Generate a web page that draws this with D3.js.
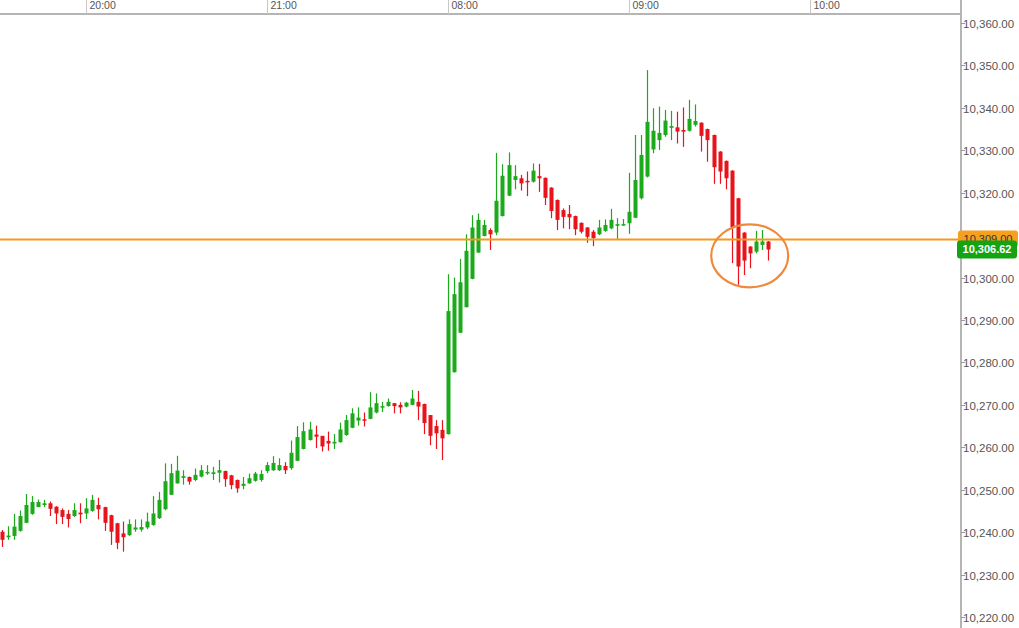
<!DOCTYPE html>
<html><head><meta charset="utf-8">
<script src="https://cdn.jsdelivr.net/npm/d3@7"></script>
<style>html,body{margin:0;padding:0;background:#fff;}svg{display:block;}</style>
</head><body><div id="chart"></div>
<script>
const opens = [10240.1,10238.8,10239.1,10240.3,10242.2,10244.3,10245.9,10246.4,10246.8,10246.0,10245.2,10244.3,10243.8,10244.6,10244.4,10245.0,10246.4,10245.9,10244.0,10242.1,10239.7,10239.3,10240.6,10240.6,10241.1,10241.7,10243.3,10245.4,10248.8,10251.5,10252.8,10253.0,10252.3,10253.1,10253.9,10253.7,10254.0,10254.4,10253.4,10252.3,10250.9,10251.5,10252.1,10252.3,10254.4,10254.6,10254.6,10255.6,10255.1,10256.8,10259.6,10261.7,10263.0,10262.7,10261.5,10260.9,10261.2,10262.9,10264.6,10266.3,10266.6,10266.7,10268.2,10269.5,10269.7,10270.4,10270.0,10269.6,10270.0,10270.7,10270.2,10267.6,10265.0,10264.1,10263.1,10277.7,10287.0,10293.0,10299.7,10305.9,10309.8,10311.2,10310.6,10314.5,10319.3,10323.0,10323.4,10322.8,10322.6,10323.9,10323.5,10321.2,10318.3,10315.9,10315.0,10314.5,10312.9,10311.8,10310.8,10310.2,10311.0,10311.6,10312.2,10312.3,10312.8,10314.1,10318.7,10323.8,10330.2,10332.4,10333.6,10335.3,10335.4,10334.8,10334.6,10336.0,10336.5,10335.0,10333.6,10329.7,10327.5,10325.2,10318.7,10310.6,10307.3,10306.1,10307.7,10308.5];
const highs = [10240.5,10241.4,10244.3,10245.1,10249.0,10248.5,10247.7,10247.6,10247.2,10246.1,10245.6,10245.2,10246.8,10246.8,10248.0,10248.8,10248.1,10246.0,10244.1,10242.2,10242.5,10243.0,10243.0,10243.0,10244.6,10248.5,10249.5,10256.2,10256.1,10258.0,10254.6,10253.1,10255.0,10255.8,10255.8,10255.4,10257.0,10254.5,10253.5,10252.4,10253.0,10253.8,10254.2,10254.6,10256.5,10257.9,10257.4,10256.5,10261.6,10265.0,10265.9,10266.0,10265.1,10262.7,10263.7,10263.1,10265.8,10267.6,10269.2,10269.4,10268.2,10273.0,10272.7,10270.7,10271.5,10270.4,10270.6,10270.7,10273.5,10273.3,10270.3,10267.6,10266.4,10266.4,10300.8,10300.0,10304.4,10310.2,10314.7,10315.1,10313.6,10311.6,10329.4,10326.7,10329.5,10326.5,10324.2,10325.0,10326.9,10326.8,10323.6,10321.3,10318.4,10316.3,10317.1,10314.6,10313.0,10311.9,10311.2,10313.6,10313.7,10316.2,10314.0,10313.8,10324.7,10333.6,10333.6,10348.9,10339.9,10340.3,10339.5,10339.3,10339.1,10340.1,10341.9,10340.8,10336.6,10335.1,10333.7,10329.8,10327.6,10325.3,10318.8,10310.7,10307.4,10311.0,10311.2,10308.6];
const lows = [10236.5,10238.2,10238.2,10240.1,10242.1,10244.1,10245.9,10245.9,10243.8,10241.9,10241.9,10241.1,10243.6,10242.1,10243.1,10244.8,10243.0,10240.3,10237.0,10236.0,10235.4,10239.1,10240.1,10240.1,10240.7,10241.5,10243.1,10245.2,10248.8,10251.4,10251.2,10251.2,10252.0,10252.9,10253.5,10252.3,10251.7,10250.7,10250.1,10249.3,10250.1,10251.4,10251.9,10251.9,10253.9,10254.4,10254.4,10253.7,10254.7,10256.8,10259.5,10261.6,10259.8,10259.0,10259.2,10259.6,10261.1,10262.7,10264.5,10265.1,10264.9,10266.6,10268.0,10268.3,10269.6,10268.0,10268.0,10269.4,10269.9,10266.4,10263.1,10260.5,10259.6,10257.0,10263.0,10277.6,10286.9,10293.0,10299.6,10305.8,10309.7,10306.5,10310.0,10314.4,10319.2,10320.8,10320.5,10319.2,10322.4,10320.2,10317.1,10314.0,10311.2,10311.6,10311.4,10310.0,10310.4,10308.2,10307.4,10310.0,10310.8,10311.4,10309.0,10312.2,10310.3,10314.0,10318.4,10323.6,10329.3,10330.1,10333.2,10332.4,10331.6,10330.8,10334.4,10335.6,10329.7,10327.3,10322.1,10322.1,10320.8,10303.4,10298.3,10300.6,10302.2,10305.7,10306.5,10304.0];
const closes = [10238.2,10239.2,10241.3,10243.8,10246.4,10247.1,10247.1,10246.8,10245.5,10244.4,10243.6,10243.1,10245.2,10244.2,10245.6,10247.6,10245.4,10242.2,10240.1,10237.5,10238.8,10241.9,10241.1,10241.2,10242.5,10244.4,10247.6,10252.0,10253.9,10254.5,10253.2,10251.9,10253.5,10254.6,10254.2,10254.1,10254.6,10252.5,10251.1,10250.3,10251.4,10252.7,10253.8,10253.7,10255.8,10256.3,10255.8,10254.6,10258.7,10262.4,10263.8,10264.2,10262.5,10260.2,10260.9,10261.3,10264.2,10266.4,10268.0,10267.0,10266.3,10269.4,10270.4,10269.7,10270.7,10269.7,10269.4,10270.5,10271.5,10269.6,10265.7,10262.7,10263.3,10262.1,10292.1,10296.1,10298.9,10306.3,10311.8,10313.6,10312.4,10310.2,10318.1,10324.0,10326.5,10323.9,10322.2,10322.5,10325.2,10323.4,10318.8,10315.7,10313.6,10314.3,10314.2,10311.4,10310.8,10309.6,10309.3,10311.8,10312.4,10313.6,10312.6,10312.6,10315.5,10323.0,10328.9,10336.7,10334.6,10334.1,10337.0,10335.7,10334.4,10334.4,10337.4,10336.9,10333.4,10332.4,10326.0,10325.0,10323.4,10311.8,10302.6,10304.0,10305.7,10308.5,10308.5,10306.62];
const timeTickIndex = [14, 44, 74, 104, 134];
const timeTickLabels = ["20:00", "21:00", "08:00", "09:00", "10:00"];
const priceTicks = [10220,10230,10240,10250,10260,10270,10280,10290,10300,10310,10320,10330,10340,10350,10360];
const levelPrice = 10309.00;
const lastPrice = 10306.62;
const circledRange = [121, 127];

const W = 1019, H = 628;
const axisX = 961, topY = 14;
const svg = d3.select("#chart").append("svg").attr("width", W).attr("height", H);

const x = d3.scaleLinear().domain([0, 134]).range([2, 810]);
const y = d3.scaleLinear().domain([10220, 10360]).range([617, 23]);
const fmt = d3.format(",.2f");
const font = "'Liberation Sans', Arial, sans-serif";

const candles = opens.map((o, i) => ({i, o, h: highs[i], l: lows[i], c: closes[i]}));
const up = "#1caa1c", down = "#e8131b";

const plot = svg.append("g");
plot.append("clipPath").attr("id","clip").append("rect").attr("x",0).attr("y",topY).attr("width",axisX).attr("height",H-topY);
const cg = plot.append("g").attr("clip-path","url(#clip)");
cg.selectAll("line.wick").data(candles).join("line")
  .attr("x1", d => Math.round(x(d.i)) + 0.5).attr("x2", d => Math.round(x(d.i)) + 0.5)
  .attr("y1", d => y(d.h)).attr("y2", d => y(d.l))
  .attr("stroke", d => d.c >= d.o ? up : down).attr("stroke-width", 1.2);
cg.selectAll("rect.body").data(candles).join("rect")
  .attr("x", d => Math.round(x(d.i)) - 1.5).attr("width", 4)
  .attr("y", d => y(Math.max(d.o, d.c)))
  .attr("height", d => Math.max(1.5, Math.abs(y(d.o) - y(d.c))))
  .attr("fill", d => d.c >= d.o ? up : down);

// level line
svg.append("line").attr("x1", 0).attr("x2", axisX).attr("y1", y(levelPrice)).attr("y2", y(levelPrice))
  .attr("stroke", "#f39a1e").attr("stroke-width", 2);

// ellipse around the last candles
const cx0 = x(circledRange[0]), cx1 = x(circledRange[1]);
const lo = d3.min(candles.slice(circledRange[0]), d => d.l);
svg.append("ellipse")
  .attr("cx", (cx0 + cx1) / 2).attr("cy", y(lo) - 29)
  .attr("rx", 38.5).attr("ry", 31.5)
  .attr("fill", "none").attr("stroke", "#ef8a3c").attr("stroke-width", 2.2);

// top time axis
svg.append("line").attr("x1", 0).attr("x2", axisX).attr("y1", topY).attr("y2", topY).attr("stroke", "#b5b5b5").attr("stroke-width", 2);
const tg = svg.append("g");
timeTickIndex.forEach((ti, k) => {
  const tx = Math.round(x(ti)) + 0.5;
  tg.append("line").attr("x1", tx).attr("x2", tx).attr("y1", 0).attr("y2", topY).attr("stroke", "#c8c8c8");
  tg.append("text").attr("x", tx + 3).attr("y", 9).attr("font-family", font).attr("font-size", 10.5)
    .attr("fill", "#555").text(timeTickLabels[k]);
});

// right price axis
svg.append("line").attr("x1", axisX).attr("x2", axisX).attr("y1", 0).attr("y2", H).attr("stroke", "#b5b5b5").attr("stroke-width", 2);
const yg = svg.append("g");
const ly = y(levelPrice), py2 = y(lastPrice);
priceTicks.filter(p => Math.abs(y(p) - ly) > 12 && Math.abs(y(p) - py2) > 12).forEach(p => {
  const py = Math.round(y(p)) + 0.5;
  yg.append("line").attr("x1", axisX).attr("x2", axisX + 4).attr("y1", py).attr("y2", py).attr("stroke", "#999");
  yg.append("text").attr("x", axisX + 2).attr("y", py + 4).attr("font-family", font).attr("font-size", 11.5)
    .attr("fill", "#555").text(fmt(p));
});

// price labels
svg.append("rect").attr("x", axisX - 3).attr("y", ly - 9).attr("width", 60).attr("height", 17).attr("rx", 3).attr("fill", "#f5a01e");
svg.append("text").attr("x", axisX + 27).attr("y", ly + 4).attr("text-anchor", "middle").attr("font-family", font)
  .attr("font-size", 11).attr("fill", "#333").text(fmt(levelPrice));
svg.append("rect").attr("x", axisX - 4).attr("y", py2 - 9).attr("width", 60).attr("height", 18).attr("rx", 3).attr("fill", "#13a313");
svg.append("text").attr("x", axisX + 26).attr("y", py2 + 4).attr("text-anchor", "middle").attr("font-family", font)
  .attr("font-size", 11).attr("font-weight", "bold").attr("fill", "#fff").text(fmt(lastPrice));
</script></body></html>
